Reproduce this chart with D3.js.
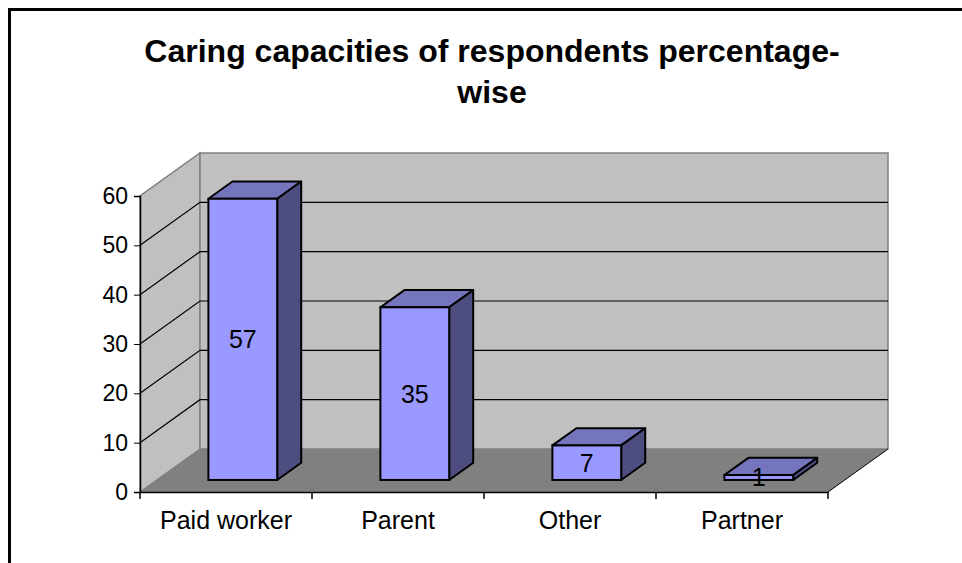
<!DOCTYPE html>
<html>
<head>
<meta charset="utf-8">
<script src="https://cdn.jsdelivr.net/npm/d3@7"></script>
<style>
  html, body { margin: 0; padding: 0; background: #fff; }
  svg { display: block; font-family: "Liberation Sans", Arial, sans-serif; }
</style>
</head>
<body>
<div id="chart"></div>
<script>
const categories = ['Paid worker', 'Parent', 'Other', 'Partner'];
const values = [57, 35, 7, 1];
const yTicks = [0, 10, 20, 30, 40, 50, 60];
const titleLines = ['Caring capacities of respondents percentage-', 'wise'];

const width = 962;
const height = 563;

// 3d box: front plane, plus a depth offset for the back wall
const depthX = 60;
const depthY = -43;
const barFront = 0.28;   // fraction of depth where bar face sits
const barDepth = 0.4;

const svg = d3.select('#chart')
  .append('svg')
  .attr('width', width)
  .attr('height', height);

// outer frame
svg.append('rect')
  .attr('x', 9.5)
  .attr('y', 9.5)
  .attr('width', 1000)
  .attr('height', 600)
  .attr('fill', 'white')
  .attr('stroke', '#000')
  .attr('stroke-width', 3);

const title = svg.append('text')
  .attr('text-anchor', 'middle')
  .attr('font-size', 32)
  .attr('font-weight', 'bold');
titleLines.forEach((line, i) => {
  title.append('tspan')
    .attr('x', 492)
    .attr('y', 62 + i * 41)
    .text(line);
});

const x = d3.scaleBand()
  .domain(categories)
  .range([140, 828])
  .padding(0);

const y = d3.scaleLinear()
  .domain([0, 60])
  .range([492, 196]);

const x0 = x.range()[0];
const x1 = x.range()[1];
const yTop = y(60);
const yBase = y(0);

const pts = (arr) => arr.map((p) => p.join(',')).join(' ');

// left wall
svg.append('polygon')
  .attr('points', pts([[x0, yBase], [x0, yTop], [x0 + depthX, yTop + depthY], [x0 + depthX, yBase + depthY]]))
  .attr('fill', '#c0c0c0')
  .attr('stroke', '#808080')
  .attr('stroke-width', 1.5);

// back wall
svg.append('polygon')
  .attr('points', pts([[x0 + depthX, yTop + depthY], [x1 + depthX, yTop + depthY], [x1 + depthX, yBase + depthY], [x0 + depthX, yBase + depthY]]))
  .attr('fill', '#c0c0c0')
  .attr('stroke', '#808080')
  .attr('stroke-width', 1.5);

// floor
svg.append('polygon')
  .attr('points', pts([[x0, yBase], [x0 + depthX, yBase + depthY], [x1 + depthX, yBase + depthY], [x1, yBase]]))
  .attr('fill', '#808080');

svg.append('line')
  .attr('x1', x1).attr('y1', yBase)
  .attr('x2', x1 + depthX).attr('y2', yBase + depthY)
  .attr('stroke', '#000')
  .attr('stroke-width', 1);

// gridlines
const grid = svg.append('g');
yTicks.filter((t) => t > 0 && t < 60).forEach((t) => {
  grid.append('polyline')
    .attr('points', pts([[x0, y(t)], [x0 + depthX, y(t) + depthY], [x1 + depthX, y(t) + depthY]]))
    .attr('fill', 'none')
    .attr('stroke', '#000')
    .attr('stroke-width', 1.2);
});

// bars
const bw = x.bandwidth() * 0.4;
const fdx = depthX * barFront;
const fdy = depthY * barFront;
const ddx = depthX * barDepth;
const ddy = depthY * barDepth;

const bars = svg.append('g').selectAll('g')
  .data(categories.map((c, i) => ({ cat: c, value: values[i] })))
  .join('g');

bars.each(function (d) {
  const g = d3.select(this);
  const left = x(d.cat) + (x.bandwidth() - bw) / 2 + fdx;
  const right = left + bw;
  const top = y(d.value) + fdy;
  const bottom = y(0) + fdy;

  g.append('polygon')
    .attr('points', pts([[left, top], [left + ddx, top + ddy], [right + ddx, top + ddy], [right, top]]))
    .attr('fill', '#7575bd')
    .attr('stroke', '#000')
    .attr('stroke-width', 2)
    .attr('stroke-linejoin', 'round');

  g.append('polygon')
    .attr('points', pts([[right, top], [right + ddx, top + ddy], [right + ddx, bottom + ddy], [right, bottom]]))
    .attr('fill', '#4d4d80')
    .attr('stroke', '#000')
    .attr('stroke-width', 2)
    .attr('stroke-linejoin', 'round');

  g.append('rect')
    .attr('x', left)
    .attr('y', top)
    .attr('width', bw)
    .attr('height', bottom - top)
    .attr('fill', '#9999ff')
    .attr('stroke', '#000')
    .attr('stroke-width', 2);

  g.append('text')
    .attr('x', (left + right) / 2)
    .attr('y', (top + bottom) / 2)
    .attr('dy', '0.36em')
    .attr('text-anchor', 'middle')
    .attr('font-size', 25)
    .attr('fill', '#000')
    .text(d.value);
});

// y axis
const yAxis = svg.append('g')
  .attr('transform', `translate(${x0},0)`)
  .call(d3.axisLeft(y).tickValues(yTicks).tickSize(6).tickPadding(6));
yAxis.select('.domain').attr('stroke', '#000').attr('stroke-width', 1.5);
yAxis.selectAll('.tick line').attr('stroke', '#000');
yAxis.selectAll('.tick text')
  .attr('font-size', 23)
  .attr('font-family', '"Liberation Sans", Arial, sans-serif')
  .attr('fill', '#000');

// x axis
const xAxis = svg.append('g')
  .attr('transform', `translate(0,${yBase})`)
  .call(d3.axisBottom(x).tickSize(0).tickPadding(19));
xAxis.select('.domain').attr('stroke', '#000').attr('stroke-width', 1.5);
xAxis.selectAll('.tick text')
  .attr('font-size', 25)
  .attr('font-family', '"Liberation Sans", Arial, sans-serif')
  .attr('fill', '#000');

// category boundary ticks
svg.append('g').selectAll('line')
  .data(d3.range(categories.length + 1))
  .join('line')
  .attr('x1', (i) => x0 + i * x.step())
  .attr('x2', (i) => x0 + i * x.step())
  .attr('y1', yBase)
  .attr('y2', yBase + 7)
  .attr('stroke', '#000')
  .attr('stroke-width', 1.5);
</script>
</body>
</html>
